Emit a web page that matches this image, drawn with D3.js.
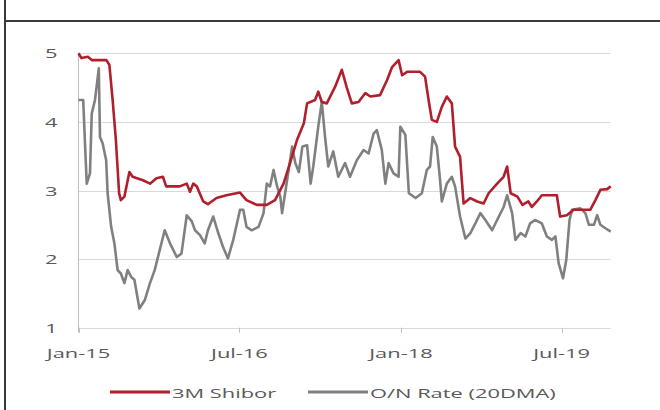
<!DOCTYPE html>
<html>
<head>
<meta charset="utf-8">
<script src="https://cdn.jsdelivr.net/npm/d3@7"></script>
<style>
  body { margin: 0; background: #fff; }
  svg text { font-family: "Open Sans", sans-serif; fill: #595959; }
</style>
</head>
<body>
<svg id="chart" width="660" height="410"></svg>
<script>
// donnees (dates approx.)
var shiborDates = ["2015-01-01","2015-01-11","2015-02-02","2015-02-16","2015-04-06","2015-04-16","2015-04-27","2015-05-08","2015-05-19","2015-05-25","2015-06-06","2015-06-23","2015-07-04","2015-08-08","2015-09-01","2015-09-23","2015-10-15","2015-10-26","2015-12-11","2016-01-04","2016-01-15","2016-01-26","2016-02-07","2016-02-29","2016-03-16","2016-04-14","2016-05-18","2016-07-03","2016-07-25","2016-08-29","2016-10-02","2016-10-30","2016-11-28","2016-12-20","2017-01-13","2017-02-05","2017-02-16","2017-03-15","2017-03-26","2017-04-07","2017-04-24","2017-05-22","2017-06-14","2017-07-01","2017-07-18","2017-08-10","2017-09-02","2017-09-19","2017-10-22","2017-11-15","2017-12-02","2017-12-24","2018-01-05","2018-01-22","2018-03-07","2018-03-24","2018-04-05","2018-04-16","2018-05-03","2018-05-20","2018-06-06","2018-06-23","2018-07-04","2018-07-21","2018-08-02","2018-08-25","2018-09-17","2018-10-09","2018-10-26","2018-11-24","2018-12-16","2018-12-28","2019-01-09","2019-02-01","2019-02-18","2019-03-10","2019-03-22","2019-04-08","2019-04-25","2019-06-15","2019-06-26","2019-07-19","2019-08-11","2019-10-07","2019-10-24","2019-11-10","2019-12-03","2019-12-15"];
var shiborValues = [5.00,4.93,4.95,4.90,4.90,4.83,4.32,3.74,2.96,2.86,2.91,3.27,3.20,3.15,3.10,3.18,3.20,3.06,3.06,3.10,2.98,3.10,3.06,2.84,2.80,2.89,2.93,2.97,2.86,2.79,2.79,2.86,3.10,3.40,3.74,3.98,4.27,4.32,4.44,4.29,4.27,4.51,4.76,4.50,4.27,4.29,4.42,4.37,4.39,4.61,4.80,4.90,4.68,4.73,4.73,4.66,4.32,4.03,4.00,4.22,4.37,4.27,3.64,3.49,2.81,2.89,2.84,2.81,2.96,3.10,3.20,3.35,2.96,2.91,2.79,2.84,2.76,2.84,2.93,2.93,2.62,2.64,2.72,2.72,2.86,3.01,3.02,3.06];

var onDates = ["2015-01-01","2015-01-17","2015-01-23","2015-01-29","2015-02-09","2015-02-15","2015-02-26","2015-03-02","2015-03-11","2015-03-15","2015-03-24","2015-04-05","2015-04-10","2015-04-22","2015-05-03","2015-05-14","2015-05-25","2015-06-06","2015-06-17","2015-06-29","2015-07-10","2015-07-27","2015-08-14","2015-09-01","2015-09-17","2015-10-04","2015-10-21","2015-11-08","2015-12-01","2015-12-17","2016-01-04","2016-01-21","2016-02-01","2016-02-18","2016-03-05","2016-03-16","2016-04-03","2016-04-20","2016-05-06","2016-05-23","2016-06-10","2016-07-03","2016-07-14","2016-07-25","2016-08-12","2016-09-04","2016-09-21","2016-10-02","2016-10-13","2016-10-25","2016-11-06","2016-11-17","2016-11-23","2016-12-10","2016-12-27","2017-01-07","2017-01-19","2017-01-31","2017-02-16","2017-02-28","2017-03-09","2017-03-26","2017-04-07","2017-04-18","2017-04-29","2017-05-16","2017-06-02","2017-06-25","2017-07-12","2017-08-04","2017-08-27","2017-09-13","2017-09-30","2017-10-11","2017-10-28","2017-11-09","2017-11-20","2017-12-07","2017-12-24","2017-12-30","2018-01-16","2018-01-28","2018-02-20","2018-03-13","2018-03-30","2018-04-10","2018-04-19","2018-05-03","2018-05-14","2018-05-20","2018-06-06","2018-06-23","2018-07-04","2018-07-21","2018-08-08","2018-08-25","2018-09-11","2018-09-28","2018-10-15","2018-11-07","2018-11-24","2018-12-16","2018-12-28","2019-01-14","2019-01-25","2019-02-12","2019-02-28","2019-03-16","2019-04-02","2019-04-25","2019-05-12","2019-05-29","2019-06-10","2019-06-21","2019-07-06","2019-07-17","2019-07-28","2019-08-06","2019-09-03","2019-09-20","2019-10-02","2019-10-19","2019-10-30","2019-11-10","2019-11-27","2019-12-15"];
var onValues = [4.32,4.32,3.69,3.10,3.25,4.12,4.32,4.46,4.78,3.78,3.69,3.44,2.96,2.47,2.23,1.84,1.79,1.65,1.84,1.74,1.70,1.28,1.40,1.65,1.84,2.13,2.42,2.23,2.03,2.08,2.64,2.55,2.42,2.35,2.23,2.42,2.62,2.38,2.18,2.01,2.28,2.72,2.72,2.47,2.42,2.47,2.67,3.10,3.06,3.30,3.06,2.91,2.67,3.15,3.64,3.40,3.27,3.64,3.66,3.10,3.35,3.93,4.29,3.78,3.35,3.57,3.20,3.40,3.20,3.44,3.59,3.54,3.83,3.88,3.59,3.10,3.40,3.25,3.20,3.93,3.81,2.96,2.89,2.96,3.30,3.35,3.78,3.64,3.15,2.84,3.10,3.20,3.06,2.62,2.30,2.38,2.52,2.67,2.57,2.42,2.57,2.76,2.93,2.67,2.28,2.38,2.33,2.52,2.57,2.52,2.33,2.28,2.33,1.94,1.72,1.99,2.57,2.72,2.74,2.67,2.50,2.50,2.64,2.50,2.45,2.40];

var yTicks = [1, 2, 3, 4, 5];
var xTickDates = ["2015-01-01", "2016-07-01", "2018-01-01", "2019-07-01"];
var seriesNames = ["3M Shibor", "O/N Rate (20DMA)"];
var seriesColors = ["#b01f2b", "#808080"];

var parse = d3.timeParse("%Y-%m-%d");
var fmt = d3.timeFormat("%b-%y");
var stretch = 1.62; // le texte de l'image est etire horizontalement

var svg = d3.select("#chart");

var x = d3.scaleTime()
  .domain([parse("2015-01-01"), parse("2019-12-15")])
  .range([78.5, 610.7]);
var y = d3.scaleLinear().domain([1, 5]).range([327.7, 53.3]);

// cadre
svg.append("line").attr("x1", 5).attr("x2", 5).attr("y1", 0).attr("y2", 410)
  .attr("stroke", "#3a3a3a").attr("stroke-width", 2);
svg.append("line").attr("x1", 5).attr("x2", 660).attr("y1", 21).attr("y2", 21)
  .attr("stroke", "#3a3a3a").attr("stroke-width", 2);

// grille
svg.append("g").selectAll("line")
  .data(yTicks)
  .enter().append("line")
  .attr("x1", x.range()[0]).attr("x2", x.range()[1])
  .attr("y1", d => Math.round(y(d)) + 0.5).attr("y2", d => Math.round(y(d)) + 0.5)
  .attr("stroke", "#d9d9d9").attr("stroke-width", 1);

// axe y
svg.append("line").attr("x1", 78.5).attr("x2", 78.5).attr("y1", y(5)).attr("y2", y(1) + 5)
  .attr("stroke", "#bfbfbf").attr("stroke-width", 1);

svg.append("g").selectAll("text")
  .data(yTicks)
  .enter().append("text")
  .attr("transform", d => `translate(57.5,${y(d) + 5})scale(${stretch},1)`)
  .attr("text-anchor", "end")
  .style("font-size", "13.5px")
  .text(d => d);

// axe x
var xt = xTickDates.map(parse);
svg.append("g").selectAll("line")
  .data(xt)
  .enter().append("line")
  .attr("x1", d => Math.round(x(d)) + 0.5).attr("x2", d => Math.round(x(d)) + 0.5)
  .attr("y1", y(1)).attr("y2", y(1) + 5)
  .attr("stroke", "#bfbfbf").attr("stroke-width", 1);

svg.append("g").selectAll("text")
  .data(xt)
  .enter().append("text")
  .attr("transform", d => `translate(${x(d)},358)scale(${stretch},1)`)
  .attr("text-anchor", "middle")
  .style("font-size", "13.5px")
  .text(d => fmt(d));

// courbes
function makeSeries(dates, values){
  return dates.map((d, i) => ({date: parse(d), value: values[i]}));
}
var allSeries = [makeSeries(onDates, onValues), makeSeries(shiborDates, shiborValues)];
var colorsDrawn = [seriesColors[1], seriesColors[0]];

var line = d3.line()
  .x(d => x(d.date))
  .y(d => y(d.value));

svg.append("g").selectAll("path")
  .data(allSeries)
  .enter().append("path")
  .attr("d", line)
  .attr("fill", "none")
  .attr("stroke", (d, i) => colorsDrawn[i])
  .attr("stroke-width", 2.6)
  .attr("stroke-linejoin", "round");

// legende
var legendX = [110, 308];
var leg = svg.append("g").selectAll("g")
  .data(seriesNames)
  .enter().append("g")
  .attr("transform", (d, i) => `translate(${legendX[i]},392)`);
leg.append("line")
  .attr("x1", 0).attr("x2", 60)
  .attr("stroke", (d, i) => seriesColors[i])
  .attr("stroke-width", 3);
leg.append("text")
  .attr("transform", `translate(62,5.5)scale(${stretch},1)`)
  .style("font-size", "13.5px")
  .text(d => d);
</script>
</body>
</html>
